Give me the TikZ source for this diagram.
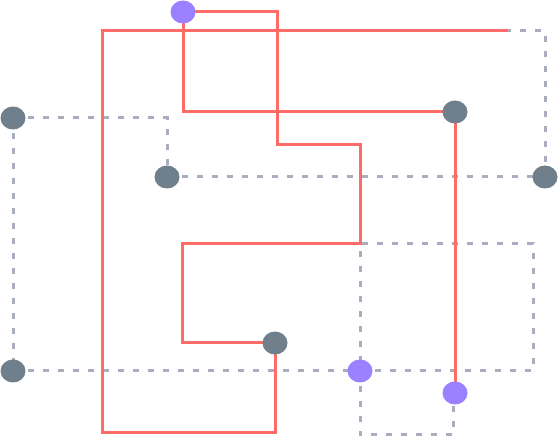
\documentclass[tikz,border=0pt]{standalone}
\usetikzlibrary{shapes.geometric}
\definecolor{redline}{HTML}{FF6B66}
\definecolor{dashgray}{HTML}{A8AEBE}
\definecolor{nodegray}{HTML}{6F7F8B}
\definecolor{nodepurple}{HTML}{9B80FF}
\begin{document}
\begin{tikzpicture}[x=1pt,y=-1pt,
  gnode/.style={ellipse,fill=nodegray,minimum width=25pt,minimum height=23pt,inner sep=0pt},
  pnode/.style={ellipse,fill=nodepurple,minimum width=25pt,minimum height=23pt,inner sep=0pt},
  rededge/.style={draw=redline,line width=3pt},
  dashedge/.style={draw=dashgray,line width=3pt,dash pattern=on 6pt off 9pt}]
\useasboundingbox (0,0) rectangle (558,438);
% node positions
\coordinate (p1c) at (183,12);
\coordinate (g1c) at (455,112);
\coordinate (g2c) at (13,118);
\coordinate (g3c) at (167,177);
\coordinate (g4c) at (545,177);
\coordinate (g5c) at (275,343);
\coordinate (g6c) at (13,371);
\coordinate (p2c) at (360,371);
\coordinate (p3c) at (455,393);
\coordinate (split) at (508,31);
% dashed edges
\draw[dashedge] (g2c) -- (167,118) -- (g3c);
\draw[dashedge] (g3c) -- (g4c);
\draw[dashedge] (g2c) -- (g6c);
\draw[dashedge] (g6c) -- (p2c);
\draw[dashedge] (p2c) -- (533,371) -- (533,244) -- (360,244) -- (p2c);
\draw[dashedge] (p2c) -- (360,435) -- (453,435) -- (453,393);
\draw[dashedge] (g4c) -- (545,31) -- (split);
% red edges
\draw[rededge] (p1c) -- (277,12) -- (277,145) -- (360,145) -- (360,244) -- (182,244) -- (182,343) -- (g5c);
\draw[rededge] (p1c) -- (183,112) -- (g1c);
\draw[rededge] (g1c) -- (p3c);
\draw[rededge] (g5c) -- (275,433) -- (102,433) -- (102,31) -- (split);
% nodes
\node[pnode] (p1) at (p1c) {};
\node[gnode] (g1) at (g1c) {};
\node[gnode] (g2) at (g2c) {};
\node[gnode] (g3) at (g3c) {};
\node[gnode] (g4) at (g4c) {};
\node[gnode] (g5) at (g5c) {};
\node[gnode] (g6) at (g6c) {};
\node[pnode] (p2) at (p2c) {};
\node[pnode] (p3) at (p3c) {};
\end{tikzpicture}
\end{document}
